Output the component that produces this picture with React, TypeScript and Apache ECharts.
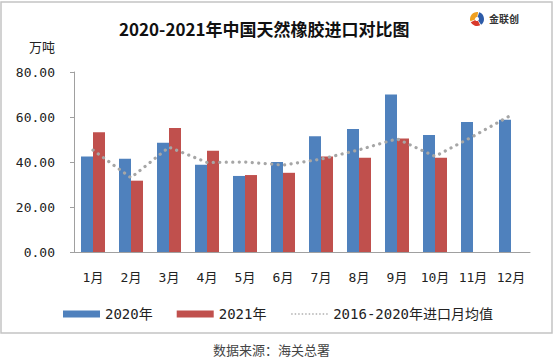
import React, { useEffect, useRef } from "react";
import * as echarts from "echarts";

const months = ["1月", "2月", "3月", "4月", "5月", "6月", "7月", "8月", "9月", "10月", "11月", "12月"];
const imports2020 = [42.4, 41.5, 48.6, 38.8, 33.8, 40.0, 51.5, 54.7, 70.0, 52.0, 57.8, 58.8];
const imports2021 = [53.2, 31.7, 55.1, 45.0, 34.2, 35.2, 42.4, 41.9, 50.5, 41.9, null, null];
const avg2016to2020 = [45.3, 33.0, 46.6, 39.8, 40.0, 38.6, 41.3, 45.4, 50.3, 42.5, 51.4, 60.8];
const yTicks = { min: 0, max: 80, interval: 20 };
const unitLabel = "万吨";

const FONT = '"DejaVu Sans Mono", "Noto Sans CJK SC", monospace';

export default function App() {
  const ref = useRef<HTMLDivElement>(null);
  useEffect(() => {
    if (!ref.current) return;
    const chart = echarts.init(ref.current, null, { renderer: "svg" });
    chart.setOption({
      animation: false,
      backgroundColor: "#ffffff",
      title: {
        text: "2020-2021年中国天然橡胶进口对比图",
        left: 114,
        top: 15,
        textStyle: { fontFamily: '"Noto Sans CJK SC", sans-serif', fontSize: 17, fontWeight: "bold", color: "#111" },
      },
      grid: { left: 74, right: 25, top: 72, bottom: 112 },
      legend: {
        left: 58,
        top: 302,
        itemWidth: 37,
        itemHeight: 7,
        itemGap: 24,
        textStyle: { fontFamily: FONT, fontSize: 14, color: "#222" },
        data: [
          { name: "2020年", icon: "rect" },
          { name: "2021年", icon: "rect" },
          {
            name: "2016-2020年进口月均值",
            itemStyle: { opacity: 0 },
            lineStyle: { width: 1.5, type: [1.5, 2], color: "#b0b0b0", cap: "butt", opacity: 1 },
          },
        ],
      },
      xAxis: {
        type: "category",
        data: months,
        axisTick: { show: false },
        axisLine: { lineStyle: { color: "#a0a0a0", width: 1 } },
        axisLabel: { fontFamily: FONT, fontSize: 13, color: "#222", margin: 19, interval: 0 },
      },
      yAxis: {
        type: "value",
        min: yTicks.min,
        max: yTicks.max,
        interval: yTicks.interval,
        splitLine: { show: false },
        axisLine: { show: true, lineStyle: { color: "#a0a0a0", width: 1 } },
        axisTick: { show: true, length: 4, lineStyle: { color: "#a0a0a0" } },
        axisLabel: {
          fontFamily: FONT,
          fontSize: 13,
          color: "#222",
          margin: 19,
          formatter: (v: number) => v.toFixed(2),
        },
      },
      series: [
        {
          name: "2020年",
          type: "bar",
          data: imports2020,
          barWidth: 12,
          barGap: "0%",
          itemStyle: { color: "#4F81BD" },
        },
        {
          name: "2021年",
          type: "bar",
          data: imports2021,
          barWidth: 12,
          itemStyle: { color: "#C0504D" },
        },
        {
          name: "2016-2020年进口月均值",
          type: "line",
          data: avg2016to2020,
          symbol: "none",
          z: 5,
          itemStyle: { color: "#a6a6a6" },
          lineStyle: { color: "#a6a6a6", width: 3.2, type: [0.1, 6.4], cap: "round" },
        },
      ],
      graphic: [
        {
          type: "rect",
          shape: { x: 1, y: 2, width: 551, height: 331 },
          style: { fill: "none", stroke: "#c4c4c4", lineWidth: 1.5 },
          silent: true,
        },
        {
          type: "text",
          left: 29,
          top: 41,
          style: { text: unitLabel, fontFamily: FONT, fontSize: 13, fill: "#222" },
        },
        {
          type: "group",
          left: 470,
          top: 12,
          children: [
            { type: "sector", shape: { cx: 8, cy: 8, r: 7, r0: 2, startAngle: Math.PI * 0.9, endAngle: Math.PI * 1.55 }, style: { fill: "#F0A020" } },
            { type: "sector", shape: { cx: 8, cy: 8, r: 7, r0: 2, startAngle: Math.PI * 1.6, endAngle: Math.PI * 2.3 }, style: { fill: "#2D5BA8" } },
            { type: "sector", shape: { cx: 8, cy: 8, r: 7, r0: 2, startAngle: Math.PI * 0.35, endAngle: Math.PI * 0.85 }, style: { fill: "#D93A2B" } },
            {
              type: "text",
              x: 20,
              y: 2,
              style: { text: "金联创", fontFamily: '"Noto Sans CJK SC", sans-serif', fontSize: 10, fontWeight: "bold", fill: "#333" },
            },
          ],
        },
        {
          type: "text",
          left: 213,
          top: 343,
          style: { text: "数据来源：海关总署", fontFamily: '"Noto Sans CJK SC", sans-serif', fontSize: 13, fill: "#444" },
        },
      ],
    });
    return () => chart.dispose();
  }, []);
  return <div ref={ref} style={{ width: 555, height: 364, position: "absolute", left: 0, top: 0 }} />;
}
